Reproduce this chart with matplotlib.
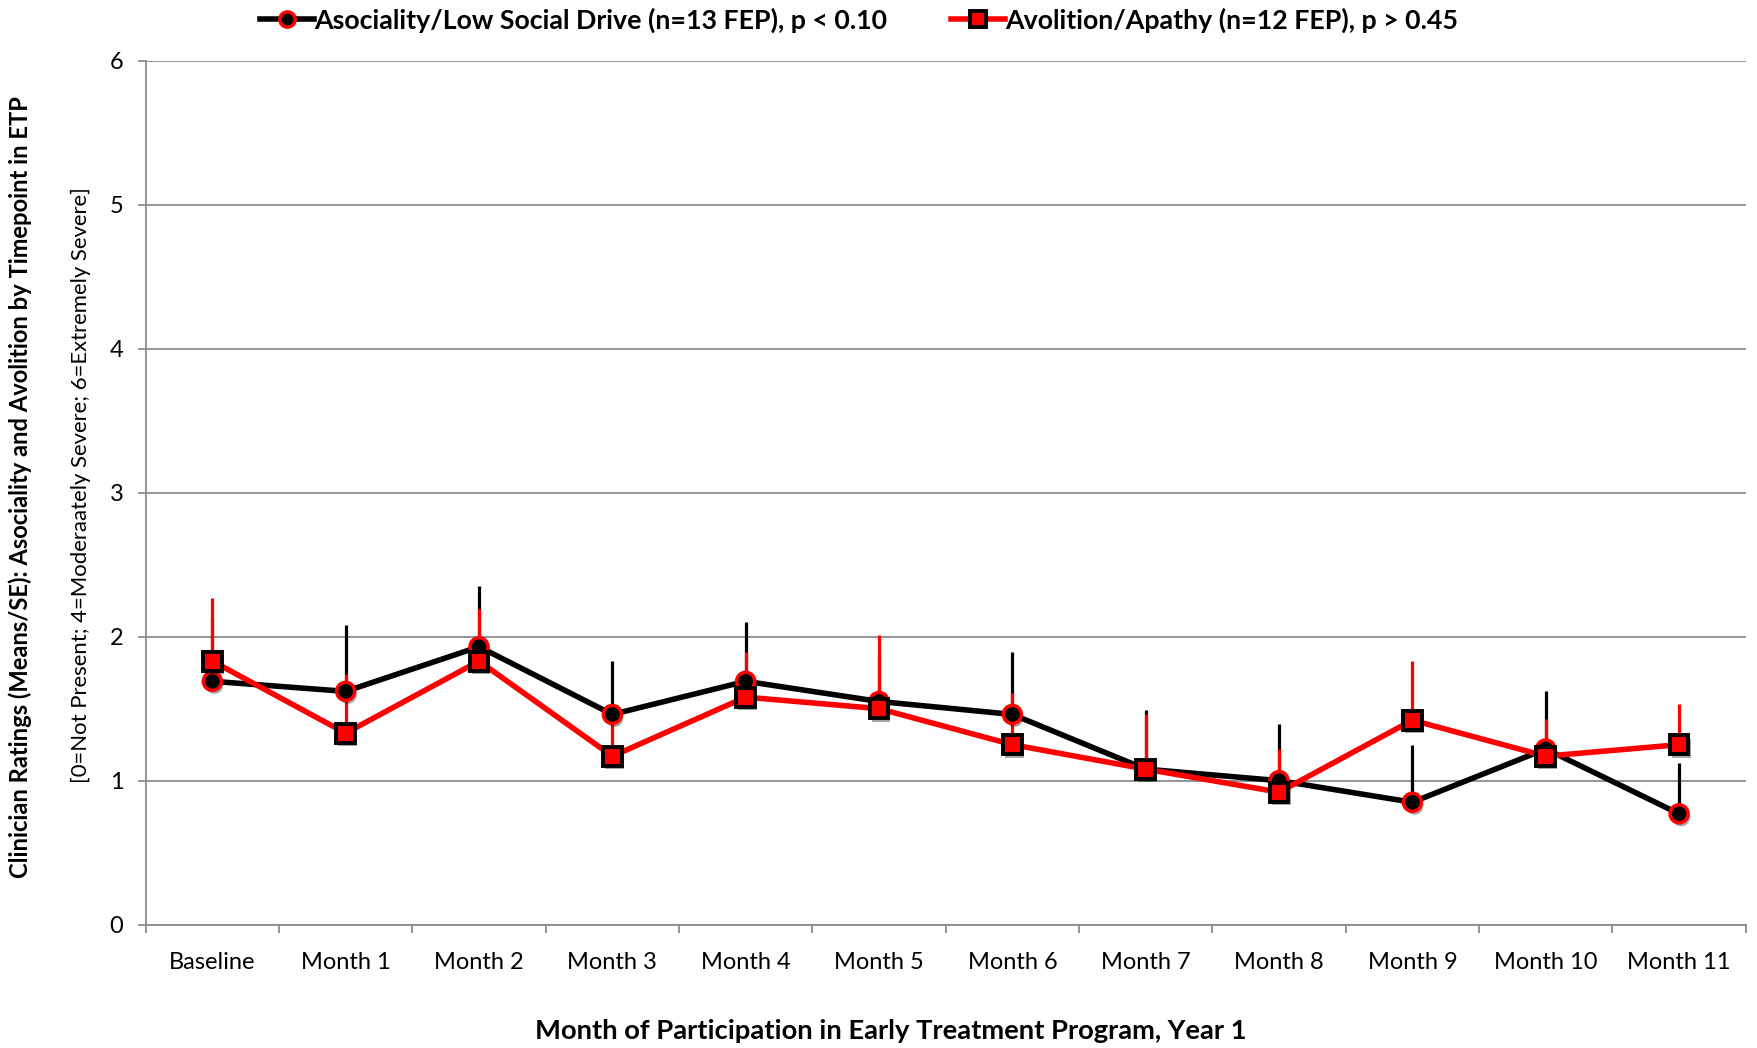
import matplotlib
matplotlib.use("Agg")
import matplotlib.pyplot as plt
import matplotlib.patheffects as pe
import numpy as np

plt.rcParams['font.family'] = ['Lato', 'DejaVu Sans']

months = ["Baseline", "Month 1", "Month 2", "Month 3", "Month 4", "Month 5",
          "Month 6", "Month 7", "Month 8", "Month 9", "Month 10", "Month 11"]

asociality_mean = [1.69, 1.62, 1.93, 1.46, 1.69, 1.55, 1.46, 1.08, 1.00, 0.85, 1.22, 0.77]
asociality_se = [0.44, 0.46, 0.42, 0.37, 0.41, 0.32, 0.43, 0.41, 0.39, 0.40, 0.40, 0.35]

avolition_mean = [1.83, 1.33, 1.83, 1.17, 1.58, 1.50, 1.25, 1.08, 0.92, 1.42, 1.17, 1.25]
avolition_se = [0.44, 0.41, 0.36, 0.27, 0.31, 0.51, 0.36, 0.38, 0.30, 0.41, 0.26, 0.28]

asociality_label = "Asociality/Low Social Drive (n=13 FEP), p < 0.10"
avolition_label = "Avolition/Apathy (n=12 FEP), p > 0.45"

fig = plt.figure(figsize=(17.57, 10.48), dpi=100)
ax = fig.add_axes([0.0829, 0.1177, 0.9107, 0.8244])

x = np.arange(len(months))
grey = "#8c8c8c"
shadow = [pe.SimplePatchShadow(offset=(1.5, -2.5), shadow_rgbFace="black", alpha=0.35), pe.Normal()]

# upper-only standard error bars
ax.errorbar(x, asociality_mean, yerr=[np.zeros(len(x)), asociality_se], fmt="none",
            ecolor="black", elinewidth=2.3, capsize=0, zorder=2)
ax.errorbar(x, avolition_mean, yerr=[np.zeros(len(x)), avolition_se], fmt="none",
            ecolor="#ff0000", elinewidth=2.3, capsize=0, zorder=3)

# series lines
ax.plot(x, asociality_mean, color="black", lw=4, zorder=4, solid_joinstyle="round")
ax.plot(x, avolition_mean, color="#ff0000", lw=4, zorder=5, solid_joinstyle="round")

# markers with a soft drop shadow
ax.plot(x, asociality_mean, ls="none", marker="o", ms=13, mfc="black", mec="#ff0000",
        mew=2.5, zorder=6, path_effects=shadow)
ax.plot(x, avolition_mean, ls="none", marker="s", ms=13.5, mfc="#ff0000", mec="black",
        mew=2.8, zorder=7, path_effects=shadow)

# legend proxies
h1, = ax.plot([], [], color="black", lw=4, marker="o", ms=11, mfc="black", mec="#ff0000", mew=2.5)
h2, = ax.plot([], [], color="#ff0000", lw=4, marker="s", ms=11.5, mfc="#ff0000", mec="black", mew=2.8)
fig.legend([h1, h2], [asociality_label, avolition_label], loc="upper center",
           bbox_to_anchor=(0.489, 1.016), ncol=2, frameon=False, handlelength=2.0,
           handletextpad=0.0, columnspacing=2.4,
           prop={"weight": "bold", "size": 19.3})

ax.set_xlim(-0.5, len(months) - 0.5)
ax.set_ylim(0, 6)
ax.set_yticks(range(0, 7))
ax.yaxis.grid(True, color=grey, lw=1.3)
ax.set_axisbelow(True)

ax.set_xticks(x)
ax.set_xticklabels(months, fontsize=17)
ax.set_xticks(np.arange(-0.5, len(months) + 0.5, 1), minor=True)
ax.tick_params(axis="x", which="major", length=0, pad=20)
ax.tick_params(axis="x", which="minor", length=6, width=1.3, color=grey)
ax.tick_params(axis="y", length=6, width=1.3, color=grey, labelsize=17, pad=10)

for s in ["top", "right"]:
    ax.spines[s].set_visible(False)
for s in ["left", "bottom"]:
    ax.spines[s].set_color(grey)
    ax.spines[s].set_linewidth(1.3)

fig.text(0.507, 0.0165, "Month of Participation in Early Treatment Program, Year 1",
         ha="center", va="center", fontsize=19.7, fontweight="bold")
fig.text(0.0115, 0.535, "Clinician Ratings (Means/SE): Asociality and Avolition by Timepoint in ETP",
         rotation=90, ha="center", va="center", fontsize=17.1, fontweight="bold")
fig.text(0.046, 0.537, "[0=Not Present; 4=Moderaately Severe; 6=Extremely Severe]",
         rotation=90, ha="center", va="center", fontsize=15.9)

fig.savefig("out.png", dpi=100)
